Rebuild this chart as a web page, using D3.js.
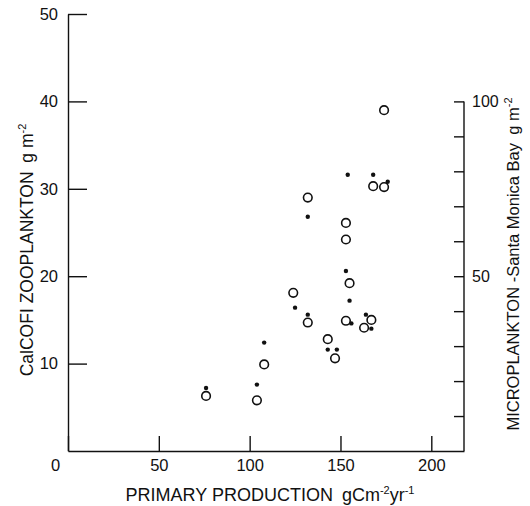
<!DOCTYPE html>
<html>
<head>
<meta charset="utf-8">
<script src="https://cdn.jsdelivr.net/npm/d3@7"></script>
<style>
  body { margin: 0; background: #fff; }
  text { font-family: "Liberation Sans", Arial, sans-serif; fill: #111; }
  .axis path, .axis line { stroke: #111; stroke-width: 1.4; }
</style>
</head>
<body>
<svg id="chart" width="530" height="506"></svg>
<script>
// CalCOFI zooplankton (open circles, left axis)
const zooProduction = [76, 104, 108, 124, 132, 132, 143, 147, 153, 153, 153, 155, 163, 167, 168, 174, 174];
const zooBiomass    = [6.3, 5.8, 9.9, 18.1, 29.0, 14.7, 12.8, 10.6, 26.1, 24.2, 14.9, 19.2, 14.1, 15.0, 30.3, 30.2, 39.0];

// Santa Monica Bay microplankton (dots, right axis)
const microProduction = [76, 104, 108, 125, 132, 132, 143, 148, 154, 153, 155, 156, 164, 167, 168, 176];
const microBiomass    = [18, 19, 31, 41, 67, 39, 29, 29, 79, 51.5, 43, 36.5, 39, 35, 79, 77];

const xTicks = [0, 50, 100, 150, 200];
const leftTicks = [10, 20, 30, 40, 50];
const rightTicks = [10, 20, 30, 40, 50, 60, 70, 80, 90, 100];
const rightLabels = [50, 100];

const svg = d3.select("#chart");

const x = d3.scaleLinear().domain([0, 218]).range([68, 464]);
const y = d3.scaleLinear().domain([0, 50]).range([451, 14]);
const yR = d3.scaleLinear().domain([0, 125]).range([451, 14]);

// bottom axis, ticks pointing up
const gx = svg.append("g")
    .attr("class", "axis")
    .attr("transform", `translate(0,${y(0)})`)
    .call(d3.axisBottom(x).tickValues(xTicks).tickSizeInner(-15).tickSizeOuter(0).tickPadding(8));
gx.selectAll("text").style("font-size", "16.5px")
    .attr("dx", d => d === 0 ? -13 : 0);

// left axis
const gy = svg.append("g")
    .attr("class", "axis")
    .attr("transform", `translate(${x(0)},0)`)
    .call(d3.axisLeft(y).tickValues(leftTicks).tickSizeInner(-19).tickSizeOuter(0).tickPadding(10));
gy.selectAll("text").style("font-size", "16.5px");

// right axis, line only up to 100
const gr = svg.append("g")
    .attr("class", "axis")
    .attr("transform", `translate(${x.range()[1]},0)`)
    .call(d3.axisRight(yR).tickValues(rightTicks).tickSizeInner(-10).tickSizeOuter(0).tickPadding(8)
      .tickFormat(d => rightLabels.includes(d) ? d : ""));
gr.select(".domain").remove();
gr.append("line")
    .attr("y1", yR(0)).attr("y2", yR(100))
    .attr("stroke", "#111").attr("stroke-width", 1.4);
gr.selectAll("text").style("font-size", "16px");

// axis titles
const leftTitle = svg.append("text")
    .attr("transform", `translate(33,250) rotate(-90)`)
    .attr("text-anchor", "middle")
    .style("font-size", "17.5px");
leftTitle.append("tspan").text("CalCOFI ZOOPLANKTON\u2002g m");
leftTitle.append("tspan").attr("dy", -7).style("font-size", "11px").text("-2");

const rightTitle = svg.append("text")
    .attr("transform", `translate(519,264) rotate(-90)`)
    .attr("text-anchor", "middle")
    .style("font-size", "16.5px");
rightTitle.append("tspan").text("MICROPLANKTON -Santa Monica Bay\u2002g m");
rightTitle.append("tspan").attr("dy", -7).style("font-size", "11px").text("-2");

const bottomTitle = svg.append("text")
    .attr("x", 270).attr("y", 501)
    .attr("text-anchor", "middle")
    .style("font-size", "18px");
bottomTitle.append("tspan").text("PRIMARY PRODUCTION\u2002gCm");
bottomTitle.append("tspan").attr("dy", -7).style("font-size", "11px").text("-2");
bottomTitle.append("tspan").attr("dy", 7).text("yr");
bottomTitle.append("tspan").attr("dy", -7).style("font-size", "11px").text("-1");

// points
svg.append("g").selectAll("circle")
  .data(d3.range(zooProduction.length))
  .join("circle")
    .attr("cx", i => x(zooProduction[i]))
    .attr("cy", i => y(zooBiomass[i]))
    .attr("r", 4.3)
    .attr("fill", "none")
    .attr("stroke", "#111")
    .attr("stroke-width", 1.6);

svg.append("g").selectAll("circle")
  .data(d3.range(microProduction.length))
  .join("circle")
    .attr("cx", i => x(microProduction[i]))
    .attr("cy", i => yR(microBiomass[i]))
    .attr("r", 2.2)
    .attr("fill", "#111");
</script>
</body>
</html>
